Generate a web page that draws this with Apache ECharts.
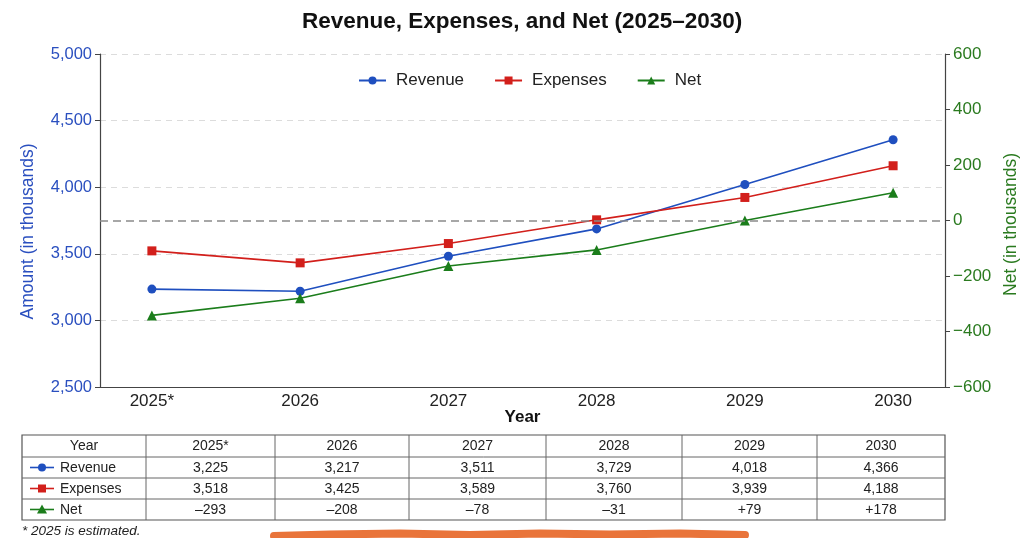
<!DOCTYPE html>
<html><head><meta charset="utf-8">
<script src="https://cdn.jsdelivr.net/npm/echarts@6/dist/echarts.min.js"></script>
<style>html,body{margin:0;padding:0;background:#fff}#c{width:1020px;height:538px}</style>
</head><body><div id="c"></div>
<script>
// ---- data ----
const years = [2025, 2026, 2027, 2028, 2029, 2030];
const yearLabels = ['2025*', '2026', '2027', '2028', '2029', '2030'];
const revenue = [3235, 3219, 3482, 3687, 4020, 4356];
const expenses = [3522, 3432, 3577, 3755, 3923, 4161];
const net = [-342, -280, -164, -106, 0, 100];
const leftTicks = [2500, 5000, 500];
const rightTicks = [-600, 600, 200];
const tableHeader = ['Year', '2025*', '2026', '2027', '2028', '2029', '2030'];
const revenueTable = ['3,225', '3,217', '3,511', '3,729', '4,018', '4,366'];
const expensesTable = ['3,518', '3,425', '3,589', '3,760', '3,939', '4,188'];
const netTable = ['–293', '–208', '–78', '–31', '+79', '+178'];

const BLUE = '#1f4fbf', RED = '#d21f1b', GREEN = '#1b7d1b';
const FONT = 'Liberation Sans, Arial, sans-serif';

const chart = echarts.init(document.getElementById('c'));

// ---- table graphic ----
const colX = [22, 146, 275, 409, 546, 682, 817, 945];
const rowY = [435, 457, 478, 499, 520];
const g = [];
g.push({type: 'rect', shape: {x: colX[0], y: rowY[0], width: colX[7] - colX[0], height: rowY[4] - rowY[0]},
  style: {fill: '#fff', stroke: '#555', lineWidth: 1.2}, z: 10});
for (let i = 1; i < colX.length - 1; i++) {
  g.push({type: 'line', shape: {x1: colX[i], y1: rowY[0], x2: colX[i], y2: rowY[4]}, style: {stroke: '#666', lineWidth: 1}, z: 11});
}
for (let j = 1; j < rowY.length - 1; j++) {
  g.push({type: 'line', shape: {x1: colX[0], y1: rowY[j], x2: colX[7], y2: rowY[j]}, style: {stroke: '#666', lineWidth: 1}, z: 11});
}
function cellText(txt, col, row) {
  g.push({type: 'text', x: (colX[col] + colX[col + 1]) / 2, y: (rowY[row] + rowY[row + 1]) / 2 + 0.5, z: 12,
    style: {text: txt, fill: '#222', font: '14px ' + FONT, textAlign: 'center', textVerticalAlign: 'middle'}});
}
tableHeader.forEach((t, i) => cellText(t, i, 0));
const rows = [
  {label: 'Revenue', vals: revenueTable, color: BLUE, mk: 'circle'},
  {label: 'Expenses', vals: expensesTable, color: RED, mk: 'rect'},
  {label: 'Net', vals: netTable, color: GREEN, mk: 'tri'}
];
rows.forEach((r, k) => {
  const row = k + 1;
  const cy = (rowY[row] + rowY[row + 1]) / 2;
  g.push({type: 'line', shape: {x1: 30, y1: cy, x2: 54, y2: cy}, style: {stroke: r.color, lineWidth: 1.6}, z: 12});
  if (r.mk === 'circle') g.push({type: 'circle', shape: {cx: 42, cy: cy, r: 4}, style: {fill: r.color}, z: 13});
  if (r.mk === 'rect') g.push({type: 'rect', shape: {x: 38, y: cy - 4, width: 8, height: 8}, style: {fill: r.color}, z: 13});
  if (r.mk === 'tri') g.push({type: 'polygon', shape: {points: [[42, cy - 5], [37, cy + 4], [47, cy + 4]]}, style: {fill: r.color}, z: 13});
  g.push({type: 'text', x: 60, y: cy + 0.5, z: 12,
    style: {text: r.label, fill: '#222', font: '14px ' + FONT, textAlign: 'left', textVerticalAlign: 'middle'}});
  r.vals.forEach((v, i) => cellText(v, i + 1, row));
});
g.push({type: 'text', x: 22, y: 531, z: 12,
  style: {text: '* 2025 is estimated.', fill: '#222', font: 'italic 13.5px ' + FONT, textAlign: 'left', textVerticalAlign: 'middle'}});
// hand-drawn orange marker stroke at bottom
g.push({type: 'polyline', z: 20,
  shape: {points: [[274, 536], [330, 534.5], [400, 533.5], [470, 535], [540, 533.5], [610, 534.5], [680, 533.5], [745, 535]]},
  style: {stroke: '#e9743a', lineWidth: 8, lineCap: 'round', lineJoin: 'round', fill: null}});

const option = {
  backgroundColor: '#ffffff',
  animation: false,
  textStyle: {fontFamily: FONT},
  title: {
    text: 'Revenue, Expenses, and Net (2025–2030)',
    left: 297, top: 5,
    textStyle: {fontSize: 22.5, fontWeight: 'bold', color: '#111', fontFamily: FONT}
  },
  legend: {
    top: 67, left: 353,
    itemWidth: 27, itemHeight: 10, itemGap: 30,
    textStyle: {fontSize: 17, color: '#222', fontFamily: FONT, padding: [0, 0, 0, 5]},
    data: ['Revenue', 'Expenses', 'Net']
  },
  grid: {left: 100, right: 75, top: 54, bottom: 151, containLabel: false, outerBoundsMode: 'none'},
  xAxis: {
    type: 'value', min: 2024.65, max: 2030.35, interval: 0.05,
    name: 'Year', nameLocation: 'middle', nameGap: 22, nameMoveOverlap: false,
    nameTextStyle: {fontSize: 17, fontWeight: 'bold', color: '#111', fontFamily: FONT},
    axisLine: {show: true, onZero: false, lineStyle: {color: '#444', width: 1.2}},
    axisTick: {show: false},
    splitLine: {show: false},
    axisLabel: {
      fontSize: 17, color: '#222', margin: 6, showMinLabel: false, showMaxLabel: false,
      formatter: function (v) {
        const i = years.findIndex(y => Math.abs(y - v) < 1e-6);
        return i >= 0 ? yearLabels[i] : '';
      }
    }
  },
  yAxis: [
    {
      type: 'value', min: leftTicks[0], max: leftTicks[1], interval: leftTicks[2], position: 'left',
      name: 'Amount (in thousands)', nameLocation: 'middle', nameGap: 63, nameRotate: 90,
      nameTextStyle: {fontSize: 17.5, color: '#2a4fbf', fontFamily: FONT, padding: [0, 22, 0, 0]},
      axisLine: {show: true, onZero: false, lineStyle: {color: '#444', width: 1.2}},
      axisTick: {show: true, length: 5, lineStyle: {color: '#444'}},
      axisLabel: {fontSize: 16.5, color: '#2a4fbf', margin: 8},
      splitLine: {show: true, lineStyle: {color: '#dcdcdc', type: [6, 5], width: 1}}
    },
    {
      type: 'value', min: rightTicks[0], max: rightTicks[1], interval: rightTicks[2], position: 'right',
      name: 'Net (in thousands)', nameLocation: 'middle', nameGap: 47, nameRotate: 90,
      nameTextStyle: {fontSize: 17.5, color: '#2a7a1f', fontFamily: FONT, padding: [0, 8, 0, 0]},
      axisLine: {show: true, onZero: false, lineStyle: {color: '#444', width: 1.2}},
      axisTick: {show: true, length: 5, lineStyle: {color: '#444'}},
      axisLabel: {fontSize: 17, color: '#2a7a1f', margin: 8,
        formatter: v => v < 0 ? '−' + Math.abs(v) : String(v)},
      splitLine: {show: false}
    }
  ],
  series: [
    {
      name: 'Revenue', type: 'line', yAxisIndex: 0,
      data: years.map((y, i) => [y, revenue[i]]),
      symbol: 'circle', symbolSize: 9,
      lineStyle: {color: BLUE, width: 1.6}, itemStyle: {color: BLUE}
    },
    {
      name: 'Expenses', type: 'line', yAxisIndex: 0,
      data: years.map((y, i) => [y, expenses[i]]),
      symbol: 'rect', symbolSize: 9,
      lineStyle: {color: RED, width: 1.6}, itemStyle: {color: RED}
    },
    {
      name: 'Net', type: 'line', yAxisIndex: 1,
      data: years.map((y, i) => [y, net[i]]),
      symbol: 'triangle', symbolSize: 10,
      lineStyle: {color: GREEN, width: 1.6}, itemStyle: {color: GREEN},
      markLine: {
        silent: true, symbol: ['none', 'none'], label: {show: false},
        emphasis: {disabled: true},
        lineStyle: {color: '#8a8a8a', type: [8, 5], width: 1.6},
        data: [{yAxis: 0}]
      }
    }
  ],
  graphic: {elements: g}
};
chart.setOption(option);
</script>
</body></html>
